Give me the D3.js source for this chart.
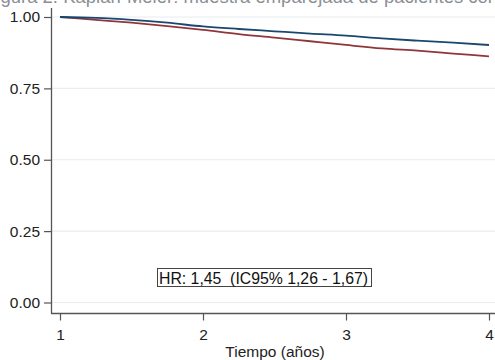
<!DOCTYPE html>
<html><head><meta charset="utf-8">
<script src="https://cdn.jsdelivr.net/npm/d3@7"></script>
<style>body{margin:0;background:#fff}svg{display:block}</style>
</head><body>
<svg id="c" width="495" height="360"></svg>
<script>
const times = [1,1.25,1.5,1.75,2,2.25,2.5,2.75,3,3.25,3.5,3.75,4];
const blueSurv = [1.0,0.997,0.99,0.98,0.967,0.958,0.95,0.942,0.935,0.925,0.917,0.91,0.902];
const redSurv  = [1.0,0.99,0.98,0.968,0.955,0.94,0.928,0.915,0.902,0.89,0.882,0.872,0.862];
const xTicks = [1,2,3,4];
const yTicks = [0,0.25,0.5,0.75,1];
const titleText = "Figura 2. Kaplan-Meier: muestra emparejada de pacientes con";
const noteText = "HR: 1,45  (IC95% 1,26 - 1,67)";
const xLabel = "Tiempo (años)";

const svg = d3.select("#c");
const font = "Liberation Sans, Arial, sans-serif";
const x = d3.scaleLinear().domain([1,4]).range([60,489]);
const y = d3.scaleLinear().domain([0,1]).range([302.5,17]);

svg.append("text").attr("x",-15).attr("y",3).attr("font-family",font).attr("font-size",18.5)
  .attr("fill","#8a8f96").text(titleText);

// gridlines
svg.append("g").selectAll("line").data(yTicks).join("line")
  .attr("x1",52).attr("x2",495).attr("y1",d=>y(d)).attr("y2",d=>y(d))
  .attr("stroke","#e6eeee").attr("stroke-width",1.2);

// axes
const ya = svg.append("g").attr("transform","translate(51,0)")
  .call(d3.axisLeft(y).tickValues(yTicks).tickFormat(d3.format(".2f")).tickSize(7).tickPadding(4));
ya.select(".domain").remove();
svg.append("line").attr("x1",51.5).attr("x2",51.5).attr("y1",8).attr("y2",313.5).attr("stroke","#555").attr("stroke-width",1.3);
const xa = svg.append("g").attr("transform","translate(0,313.5)")
  .call(d3.axisBottom(x).tickValues(xTicks).tickFormat(d3.format("d")).tickSize(7).tickPadding(8));
xa.select(".domain").remove();
svg.append("line").attr("x1",51).attr("x2",495).attr("y1",313.5).attr("y2",313.5).attr("stroke","#555").attr("stroke-width",1.3);
svg.selectAll(".tick line").attr("stroke","#555").attr("stroke-width",1.2);
svg.selectAll(".tick text").attr("font-family",font).attr("font-size",15.5).attr("fill","#222");

svg.append("text").attr("x",275).attr("y",357).attr("text-anchor","middle")
  .attr("font-family",font).attr("font-size",15.5).attr("fill","#222").text(xLabel);

const line = d3.line().x((d,i)=>x(times[i])).y(d=>y(d)).curve(d3.curveMonotoneX);
svg.append("path").datum(redSurv).attr("d",line).attr("fill","none").attr("stroke","#90353b").attr("stroke-width",1.8);
svg.append("path").datum(blueSurv).attr("d",line).attr("fill","none").attr("stroke","#1a476f").attr("stroke-width",1.8);

// annotation box
const g = svg.append("g");
g.append("rect").attr("x",157.5).attr("y",268.5).attr("width",214).attr("height",18)
  .attr("fill","#fff").attr("stroke","#444").attr("stroke-width",1);
g.append("text").attr("x",159).attr("y",283.5).attr("font-family",font).attr("font-size",15.8)
  .attr("fill","#111").attr("xml:space","preserve").style("white-space","pre").text(noteText);
</script>
</body></html>
